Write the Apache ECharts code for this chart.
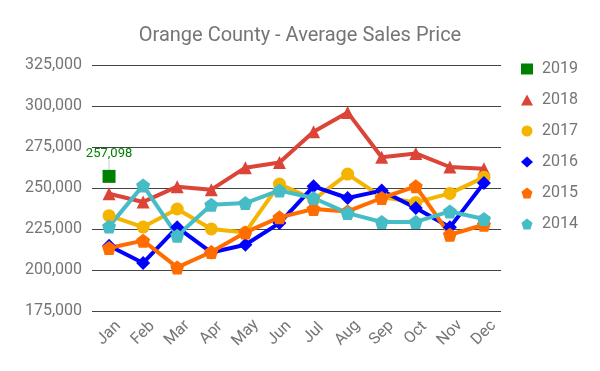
<!DOCTYPE html>
<html>
<head>
<meta charset="utf-8">
<script src="https://cdn.jsdelivr.net/npm/echarts@6/dist/echarts.min.js"></script>
<style>html,body{margin:0;padding:0;background:#fff}#c{width:600px;height:371px}</style>
</head>
<body>
<div id="c"></div>
<script>
var months = ['Jan','Feb','Mar','Apr','May','Jun','Jul','Aug','Sep','Oct','Nov','Dec'];
var y2019 = [257098, null, null, null, null, null, null, null, null, null, null, null];
var y2018 = [246500, 241500, 250800, 249000, 262400, 265600, 284300, 296100, 268700, 271100, 262800, 261800];
var y2017 = [233100, 226200, 237200, 225000, 222900, 252400, 242900, 258500, 244500, 241200, 246700, 256500];
var y2016 = [214800, 204300, 226000, 210700, 215400, 228600, 251000, 243900, 248400, 237800, 226000, 253000];
var y2015 = [213400, 217900, 201600, 211000, 222900, 232100, 237200, 235700, 243900, 251000, 221500, 227600];
var y2014 = [226600, 251600, 220900, 239800, 240800, 248500, 243900, 234700, 229300, 229300, 235700, 231100];
var yTicks = [175000, 325000, 25000];

var pent = 'path://M50,0 L100,38 L81,100 L19,100 L0,38 Z';
var font = 'Roboto, sans-serif';
var gray = '#757575';

function ser(name, data, color, symbol, size) {
  return {
    name: name, type: 'line', data: data, symbol: symbol, symbolSize: size,
    showAllSymbol: true,
    itemStyle: {color: color}, lineStyle: {color: color, width: 4},
    emphasis: {disabled: true}
  };
}

var chart = echarts.init(document.getElementById('c'), null, {renderer: 'canvas'});
var s2019 = ser('2019', y2019, '#008000', 'rect', 13);
s2019.label = {show: true, position: 'top', distance: 10, color: '#008000', fontSize: 13, fontFamily: font,
  formatter: function (p) { return echarts.format.addCommas(p.value); }};
s2019.labelLine = {show: true, lineStyle: {color: '#cccccc', width: 1}};
s2019.labelLayout = {dy: 0};

chart.setOption({
  animation: false,
  title: {text: 'Orange County - Average Sales Price', left: 'center', top: 21,
    textStyle: {color: gray, fontSize: 20, fontWeight: 'normal', fontFamily: font}},
  legend: {orient: 'vertical', left: 516, top: 56, itemWidth: 12, itemHeight: 11, itemGap: 15,
    lineStyle: {opacity: 0, width: 0},
    textStyle: {color: gray, fontSize: 16, fontFamily: font, padding: [0, 0, 0, 4]},
    data: [
      {name: '2019', icon: 'rect'},
      {name: '2018', icon: 'triangle'},
      {name: '2017', icon: 'circle'},
      {name: '2016', icon: 'diamond'},
      {name: '2015', icon: pent},
      {name: '2014', icon: pent}
    ]},
  grid: {left: 92, right: 99, top: 65, bottom: 60},
  xAxis: {type: 'category', data: months, boundaryGap: true,
    axisLine: {show: false}, axisTick: {show: false},
    axisLabel: {rotate: 45, color: gray, fontSize: 16, fontFamily: font, margin: 22,
      align: 'center', verticalAlign: 'middle'}},
  yAxis: {type: 'value', min: yTicks[0], max: yTicks[1], interval: yTicks[2],
    axisLine: {show: false}, axisTick: {show: false},
    splitLine: {show: true, lineStyle: {color: '#444444', width: 1}},
    axisLabel: {color: gray, fontSize: 16, fontFamily: font, margin: 10,
      formatter: function (v) { return echarts.format.addCommas(v); }}},
  series: [
    s2019,
    ser('2018', y2018, '#DB4437', 'triangle', 13),
    ser('2017', y2017, '#F4B400', 'circle', 13),
    ser('2016', y2016, '#0000FF', 'diamond', 14),
    ser('2015', y2015, '#FF6D00', pent, 14),
    ser('2014', y2014, '#46BDC6', pent, 14)
  ]
});
</script>
</body>
</html>
